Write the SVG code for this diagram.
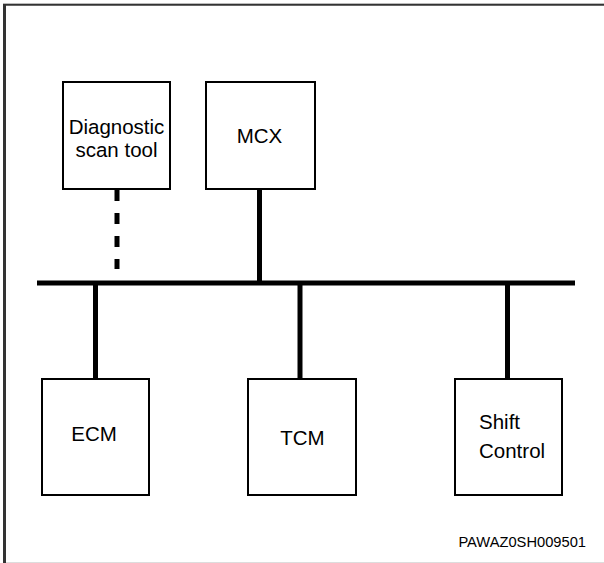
<svg xmlns="http://www.w3.org/2000/svg" width="604" height="563" viewBox="0 0 604 563">
<style>
.box{fill:#fff;stroke:#000;stroke-width:2}
.lbl{font-family:"Liberation Sans",Arial,sans-serif;font-size:20.5px;fill:#000}
.wire{stroke:#000;stroke-width:5;fill:none}
</style>
<rect width="604" height="563" fill="#fff"/>
<g id="frame">
<line x1="3" y1="3.5" x2="604" y2="3.5" stroke="#bbb" stroke-width="1"/>
<line x1="4" y1="4.8" x2="604" y2="4.8" stroke="#333" stroke-width="1.8"/>
<line x1="4.5" y1="4" x2="4.5" y2="563" stroke="#333" stroke-width="3"/>
<line x1="6" y1="562.5" x2="604" y2="562.5" stroke="#ddd" stroke-width="1"/>
</g>
<g id="connectors">
<line class="wire" x1="117" y1="190" x2="117" y2="269" stroke-dasharray="11,12"/>
<line class="wire" x1="259.5" y1="189" x2="259.5" y2="283"/>
<line class="wire" x1="37" y1="283" x2="575" y2="283" stroke-width="4.6"/>
<line class="wire" x1="95.5" y1="283" x2="95.5" y2="379"/>
<line class="wire" x1="300" y1="283" x2="300" y2="379"/>
<line class="wire" x1="507.5" y1="283" x2="507.5" y2="379"/>
</g>
<g id="diag">
<rect class="box" x="63" y="82" width="107" height="107"/>
<text class="lbl" x="116.5" y="134" text-anchor="middle">Diagnostic</text>
<text class="lbl" x="116.5" y="157" text-anchor="middle">scan tool</text>
</g>
<g id="mcx">
<rect class="box" x="206" y="82" width="109" height="107"/>
<text class="lbl" x="259.5" y="143" text-anchor="middle">MCX</text>
</g>
<g id="ecm">
<rect class="box" x="42" y="379" width="107" height="116"/>
<text class="lbl" x="94" y="441" text-anchor="middle">ECM</text>
</g>
<g id="tcm">
<rect class="box" x="248" y="379" width="108" height="116"/>
<text class="lbl" x="302.5" y="445" text-anchor="middle">TCM</text>
</g>
<g id="shift">
<rect class="box" x="455" y="379" width="107" height="116"/>
<text class="lbl" x="479" y="428.5">Shift</text>
<text class="lbl" x="479" y="458">Control</text>
</g>
<text x="586" y="547" text-anchor="end" font-family="Liberation Sans,Arial,sans-serif" font-size="14.7px" fill="#000">PAWAZ0SH009501</text>
</svg>
